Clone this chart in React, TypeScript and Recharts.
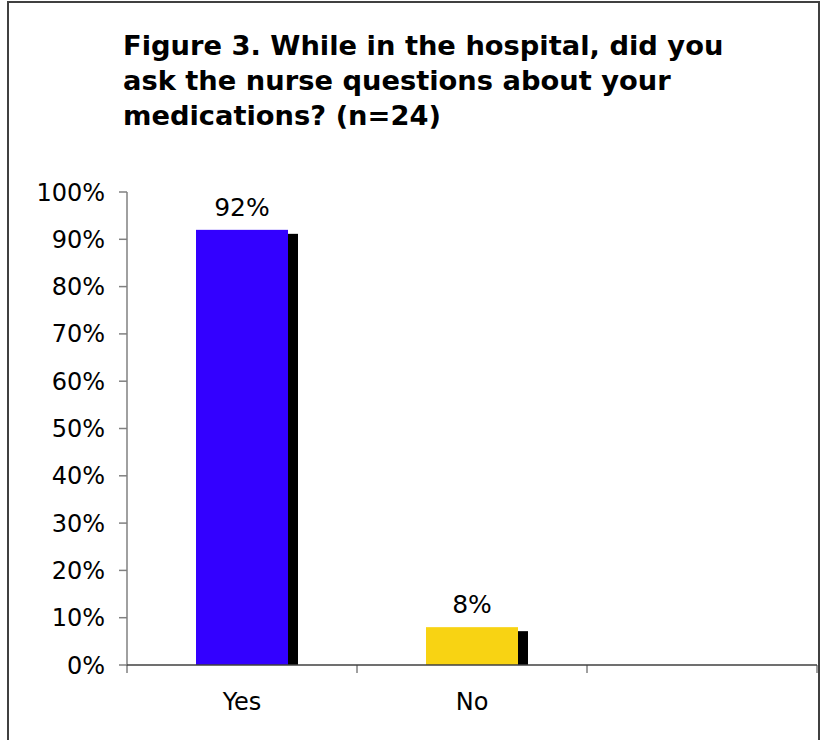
import React from 'react';
import { BarChart, Bar, XAxis, YAxis, LabelList } from 'recharts';

const categories = ['Yes', 'No', ''];
const values: (number | null)[] = [0.92, 0.08, null];
const barColors = ['#3300FF', '#F8D313', 'none'];
const yTicks = [0, 0.1, 0.2, 0.3, 0.4, 0.5, 0.6, 0.7, 0.8, 0.9, 1];
const titleLines = [
  'Figure 3. While in the hospital, did you',
  'ask the nurse questions about your',
  'medications? (n=24)',
];

const data = categories.map((c, i) => ({ category: c, value: values[i] }));

const FONT = '"DejaVu Sans", Verdana, sans-serif';

const ShadowBar = (props: any) => {
  const { x, y, width, height, index } = props;
  if (!height || height <= 0) return null;
  const shift = 10;
  const drop = 4;
  return (
    <g>
      <rect x={x + width} y={y + drop} width={shift} height={height - drop} fill="#000" />
      <rect x={x} y={y} width={width} height={height} fill={barColors[index]} />
    </g>
  );
};

const CategoryTick = (props: any) => {
  const { x, y, payload, index, visibleTicksCount } = props;
  const half = payload && payload.offset ? payload.offset : 115;
  const axisY = y - 8;
  return (
    <g>
      <line x1={x - half} x2={x - half} y1={axisY} y2={axisY + 8} stroke="#404040" strokeWidth={1} />
      {index === visibleTicksCount - 1 ? (
        <line x1={x + half} x2={x + half} y1={axisY} y2={axisY + 8} stroke="#404040" strokeWidth={1} />
      ) : null}
      <text x={x} y={axisY + 45} textAnchor="middle" fontSize={24} fontFamily={FONT} fill="#000">
        {payload.value}
      </text>
    </g>
  );
};

export default function App() {
  return (
    <div style={{ position: 'absolute', left: 0, top: 0, width: 825, height: 740, overflow: 'hidden', background: '#fff' }}>
      <div
        style={{
          position: 'absolute',
          left: 7,
          top: 1,
          width: 813,
          height: 800,
          border: '2px solid #404040',
          boxSizing: 'border-box',
        }}
      />
      <div
        style={{
          position: 'absolute',
          left: 123,
          top: 28,
          fontFamily: FONT,
          fontWeight: 'bold',
          fontSize: 27.3,
          lineHeight: '35px',
          color: '#000',
          whiteSpace: 'nowrap',
        }}
      >
        {titleLines.map((l, i) => (
          <div key={i}>{l}</div>
        ))}
      </div>
      <div style={{ position: 'absolute', left: 0, top: 0 }}>
        <BarChart
          width={825}
          height={740}
          data={data}
          margin={{ top: 192, right: 8, bottom: 25, left: 0 }}
          barCategoryGap="30%"
        >
          <YAxis
            type="number"
            domain={[0, 1]}
            ticks={yTicks}
            interval={0}
            width={127}
            tickFormatter={(v: number) => `${Math.round(v * 100)}%`}
            tick={{ fontSize: 24, fontFamily: FONT, fill: '#000' }}
            tickSize={8}
            tickMargin={14}
            axisLine={{ stroke: '#808080', strokeWidth: 1.5 }}
            tickLine={{ stroke: '#808080', strokeWidth: 1.5 }}
          />
          <XAxis
            dataKey="category"
            type="category"
            height={50}
            interval={0}
            tickLine={false}
            axisLine={{ stroke: '#404040', strokeWidth: 1.5 }}
            tick={<CategoryTick />}
          />
          <Bar dataKey="value" isAnimationActive={false} shape={<ShadowBar />}>
            <LabelList
              dataKey="value"
              position="top"
              offset={14}
              formatter={(v: any) => (v == null ? '' : `${Math.round(v * 100)}%`)}
              style={{ fontSize: 25, fontFamily: FONT, fill: '#000' }}
            />
          </Bar>
        </BarChart>
      </div>
    </div>
  );
}
